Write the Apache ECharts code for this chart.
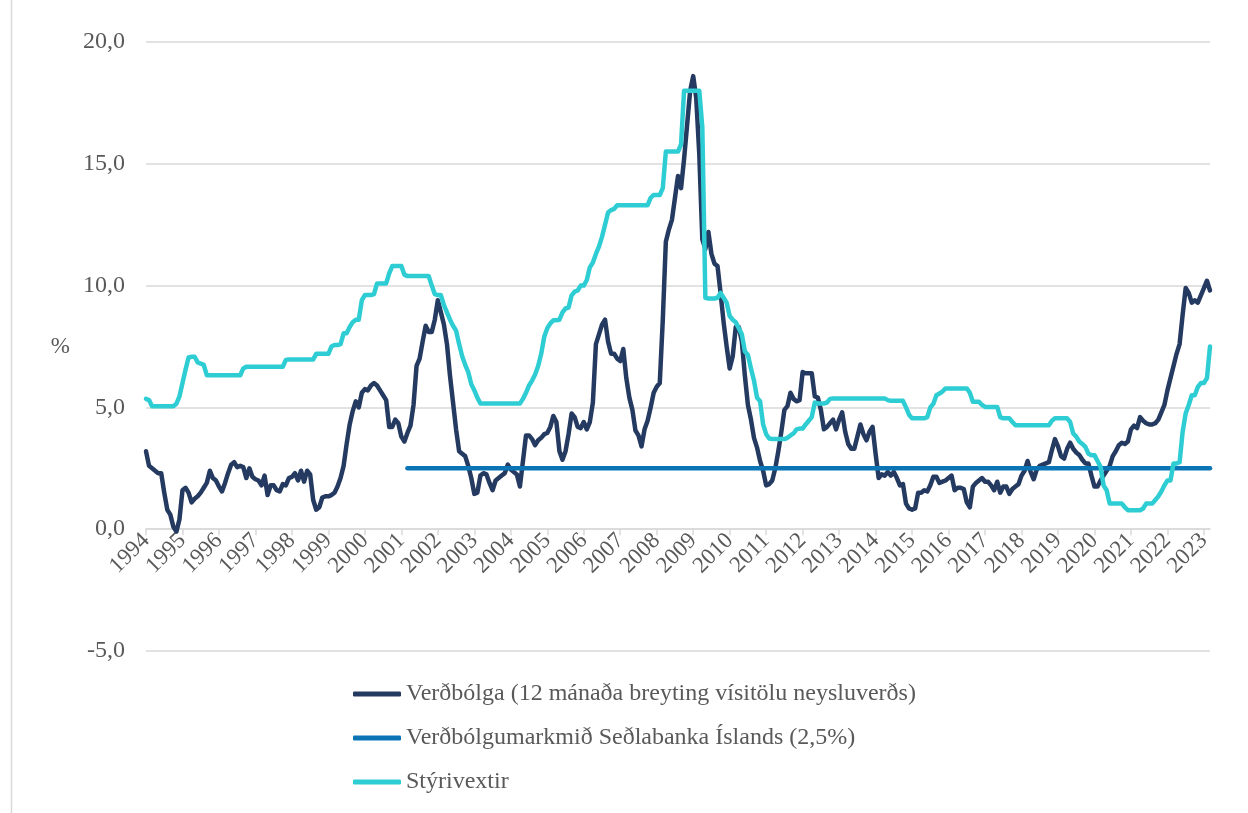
<!DOCTYPE html>
<html>
<head>
<meta charset="utf-8">
<script src="https://cdn.jsdelivr.net/npm/echarts@6/dist/echarts.min.js"></script>
<style>
  html, body { margin: 0; padding: 0; background: #ffffff; }
  #chart { width: 1248px; height: 813px; }
</style>
</head>
<body>
<div id="chart"></div>
<script>
// Monthly observations, January 1994 to March 2023
const startYear = 1994;
const monthCount = 351;

// Verðbólga: 12-month change in the consumer price index (%), one row per year
const inflation = [
  3.2, 2.6, 2.5, 2.4, 2.3, 2.3, 1.5, 0.8, 0.6, 0.1, -0.1, 0.4,          // 1994
  1.6, 1.7, 1.5, 1.1, 1.25, 1.35, 1.5, 1.7, 1.9, 2.4, 2.1, 2.0,         // 1995
  1.75, 1.55, 1.9, 2.3, 2.65, 2.75, 2.55, 2.6, 2.55, 2.1, 2.5, 2.15,    // 1996
  2.05, 2.0, 1.8, 2.2, 1.4, 1.8, 1.8, 1.6, 1.55, 1.85, 1.8, 2.1,        // 1997
  2.15, 2.3, 2.0, 2.4, 1.95, 2.4, 2.25, 1.2, 0.8, 0.9, 1.3, 1.35,       // 1998
  1.35, 1.4, 1.5, 1.75, 2.1, 2.6, 3.5, 4.3, 4.85, 5.25, 5.0, 5.6,       // 1999
  5.75, 5.7, 5.9, 6.0, 5.9, 5.7, 5.5, 5.3, 4.2, 4.2, 4.5, 4.35,         // 2000
  3.8, 3.6, 3.95, 4.25, 5.1, 6.7, 7.0, 7.7, 8.35, 8.1, 8.1, 8.6,        // 2001
  9.4, 8.9, 8.4, 7.6, 6.3, 5.2, 4.1, 3.2, 3.1, 3.0, 2.6, 2.1,          // 2002
  1.45, 1.5, 2.2, 2.3, 2.25, 1.9, 1.6, 2.0, 2.1, 2.2, 2.3, 2.65,        // 2003
  2.45, 2.35, 2.25, 1.75, 2.8, 3.85, 3.85, 3.7, 3.45, 3.65, 3.75, 3.9,  // 2004
  3.95, 4.2, 4.65, 4.4, 3.2, 2.85, 3.2, 3.9, 4.75, 4.6, 4.2, 4.15,      // 2005
  4.4, 4.1, 4.4, 5.2, 7.6, 8.0, 8.4, 8.6, 7.7, 7.2, 7.2, 7.0,           // 2006
  6.9, 7.4, 6.2, 5.4, 4.9, 4.05, 3.85, 3.4, 4.1, 4.45, 5.0, 5.6,        // 2007
  5.85, 6.0, 8.6, 11.8, 12.3, 12.7, 13.6, 14.5, 14.0, 15.2, 16.6, 18.0, // 2008
  18.6, 17.7, 15.4, 11.9, 11.5, 12.2, 11.3, 10.9, 10.8, 9.7, 8.5, 7.5,  // 2009
  6.6, 7.1, 8.3, 8.3, 7.7, 6.3, 5.1, 4.5, 3.75, 3.35, 2.8, 2.4,         // 2010
  1.8, 1.85, 2.0, 2.5, 3.2, 4.0, 4.9, 5.05, 5.6, 5.35, 5.25, 5.3,       // 2011
  6.45, 6.4, 6.4, 6.4, 5.45, 5.4, 4.9, 4.1, 4.2, 4.35, 4.5, 4.1,        // 2012
  4.5, 4.8, 4.0, 3.5, 3.3, 3.3, 3.8, 4.3, 3.9, 3.65, 4.0, 4.2,          // 2013
  3.1, 2.1, 2.25, 2.2, 2.35, 2.2, 2.35, 2.1, 1.8, 1.85, 1.05, 0.85,     // 2014
  0.8, 0.85, 1.5, 1.5, 1.6, 1.55, 1.8, 2.15, 2.15, 1.9, 1.95, 2.0,      // 2015
  2.1, 2.2, 1.6, 1.7, 1.7, 1.65, 1.1, 0.9, 1.75, 1.9, 2.0, 2.1,         // 2016
  1.95, 1.95, 1.8, 1.6, 1.95, 1.5, 1.75, 1.75, 1.45, 1.65, 1.75, 1.85,  // 2017
  2.2, 2.4, 2.8, 2.35, 2.05, 2.45, 2.6, 2.65, 2.7, 2.75, 3.25, 3.7,     // 2018
  3.4, 3.0, 2.9, 3.3, 3.55, 3.3, 3.15, 3.05, 2.85, 2.7, 2.7, 2.2,       // 2019
  1.75, 1.75, 2.0, 2.2, 2.4, 2.6, 3.0, 3.2, 3.45, 3.55, 3.5, 3.6,       // 2020
  4.1, 4.25, 4.15, 4.6, 4.45, 4.35, 4.3, 4.3, 4.35, 4.5, 4.8, 5.1,      // 2021
  5.7, 6.2, 6.7, 7.2, 7.6, 8.8, 9.9, 9.7, 9.3, 9.4, 9.3, 9.6,           // 2022
  9.9, 10.2, 9.8                                                        // 2023
];

// Stýrivextir: policy rate (%), one row per year
const policyRate = [
  5.35, 5.3, 5.05, 5.05, 5.05, 5.05, 5.05, 5.05, 5.05, 5.05, 5.15, 5.45,        // 1994
  6.0, 6.55, 7.05, 7.08, 7.08, 6.85, 6.8, 6.75, 6.32, 6.32, 6.32, 6.32,         // 1995
  6.32, 6.32, 6.32, 6.32, 6.32, 6.32, 6.32, 6.32, 6.6, 6.67, 6.67, 6.67,        // 1996
  6.67, 6.67, 6.67, 6.67, 6.67, 6.67, 6.67, 6.67, 6.67, 6.67, 6.95, 6.97,       // 1997
  6.97, 6.97, 6.97, 6.97, 6.97, 6.97, 6.97, 6.97, 7.2, 7.2, 7.2, 7.2,           // 1998
  7.2, 7.5, 7.56, 7.56, 7.6, 8.04, 8.04, 8.3, 8.5, 8.6, 8.6, 9.4,               // 1999
  9.61, 9.61, 9.61, 9.65, 10.09, 10.09, 10.09, 10.09, 10.5, 10.8, 10.8, 10.8,   // 2000
  10.8, 10.45, 10.39, 10.39, 10.39, 10.39, 10.39, 10.39, 10.39, 10.39, 10.0, 9.65, // 2001
  9.61, 9.61, 9.2, 8.9, 8.6, 8.35, 8.15, 7.6, 7.1, 6.75, 6.45, 5.95,            // 2002
  5.7, 5.4, 5.16, 5.16, 5.16, 5.16, 5.16, 5.16, 5.16, 5.16, 5.16, 5.16,         // 2003
  5.16, 5.16, 5.16, 5.16, 5.35, 5.6, 5.9, 6.1, 6.35, 6.7, 7.2, 7.9,             // 2004
  8.25, 8.45, 8.58, 8.58, 8.6, 8.9, 9.06, 9.1, 9.6, 9.75, 9.8, 10.0,            // 2005
  10.0, 10.23, 10.75, 10.95, 11.3, 11.6, 12.0, 12.5, 13.0, 13.1, 13.15, 13.3,   // 2006
  13.3, 13.3, 13.3, 13.3, 13.3, 13.3, 13.3, 13.3, 13.3, 13.3, 13.6, 13.72,      // 2007
  13.72, 13.72, 14.0, 15.5, 15.5, 15.5, 15.5, 15.5, 15.8, 18.0, 18.0, 18.0,     // 2008
  18.0, 18.0, 18.0, 16.5, 9.5, 9.47, 9.47, 9.47, 9.5, 9.7, 9.5, 9.3,            // 2009
  8.75, 8.6, 8.5, 8.25, 8.0, 7.3, 7.15, 6.6, 6.1, 5.4, 5.25, 4.3,               // 2010
  3.9, 3.72, 3.7, 3.7, 3.7, 3.7, 3.7, 3.75, 3.85, 3.93, 4.1, 4.13,              // 2011
  4.13, 4.3, 4.45, 4.6, 5.2, 5.16, 5.16, 5.16, 5.2, 5.35, 5.37, 5.37,           // 2012
  5.37, 5.37, 5.37, 5.37, 5.37, 5.37, 5.37, 5.37, 5.37, 5.37, 5.37, 5.37,       // 2013
  5.37, 5.37, 5.37, 5.37, 5.3, 5.27, 5.27, 5.27, 5.27, 5.27, 5.0, 4.7,          // 2014
  4.55, 4.55, 4.55, 4.55, 4.55, 4.6, 5.0, 5.15, 5.5, 5.57, 5.65, 5.78,          // 2015
  5.78, 5.78, 5.78, 5.78, 5.78, 5.78, 5.78, 5.6, 5.23, 5.23, 5.23, 5.1,         // 2016
  5.02, 5.02, 5.02, 5.02, 5.02, 4.6, 4.55, 4.55, 4.55, 4.4, 4.27, 4.27,         // 2017
  4.27, 4.27, 4.27, 4.27, 4.27, 4.27, 4.27, 4.27, 4.27, 4.27, 4.45, 4.55,       // 2018
  4.55, 4.55, 4.55, 4.55, 4.4, 3.93, 3.8, 3.6, 3.5, 3.38, 3.1, 3.04,            // 2019
  3.04, 2.8, 2.56, 1.8, 1.6, 1.05, 1.05, 1.05, 1.05, 1.05, 0.9, 0.78,           // 2020
  0.78, 0.78, 0.78, 0.78, 0.85, 1.05, 1.05, 1.05, 1.2, 1.35, 1.55, 1.8,         // 2021
  2.0, 2.0, 2.7, 2.7, 2.75, 4.0, 4.75, 5.1, 5.5, 5.5, 5.84, 6.0,                // 2022
  6.0, 6.2, 7.5                                                                 // 2023
];

// Verðbólgumarkmið: the 2.5% target, in force from March 2001
const targetRate = 2.5;
const targetStartIndex = 86;

const yTicks = { min: -5, max: 20, interval: 5 };

const seriesNames = [
  'Verðbólga (12 mánaða breyting vísitölu neysluverðs)',
  'Verðbólgumarkmið Seðlabanka Íslands (2,5%)',
  'Stýrivextir'
];
const seriesColors = ['#253a60', '#0a74b4', '#2ecdd3'];

// Month categories "YYYY-MM"
const months = [];
for (let i = 0; i < monthCount; i++) {
  const y = startYear + Math.floor(i / 12);
  const m = (i % 12) + 1;
  months.push(y + '-' + (m < 10 ? '0' + m : m));
}
const target = months.map((_, i) => (i >= targetStartIndex ? targetRate : null));

const font = 'Liberation Serif';
const textColor = '#595959';
const gridColor = '#d9d9d9';

// Plot box
const gridBox = { left: 146, right: 38, top: 42, bottom: 162 };
const plotHeight = 813 - gridBox.top - gridBox.bottom;
// Shift that puts the category axis on the zero line
const zeroShift = plotHeight * (0 - yTicks.min) / (yTicks.max - yTicks.min);

const chart = echarts.init(document.getElementById('chart'), null, { renderer: 'canvas' });

const lineSeries = (name, data, color, z) => ({
  name: name,
  type: 'line',
  data: data,
  showSymbol: false,
  symbol: 'none',
  connectNulls: false,
  z: z,
  lineStyle: { color: color, width: 4.5, cap: 'round', join: 'round' },
  itemStyle: { color: color }
});

chart.setOption({
  animation: false,
  backgroundColor: '#ffffff',
  textStyle: { fontFamily: font },
  grid: Object.assign({ containLabel: false }, gridBox),
  xAxis: {
    type: 'category',
    data: months,
    boundaryGap: false,
    position: 'bottom',
    offset: -zeroShift,
    axisLine: { onZero: false, lineStyle: { color: gridColor, width: 1.5 } },
    axisTick: { show: true, interval: 11, length: 6, lineStyle: { color: gridColor, width: 1.5 } },
    axisLabel: {
      interval: 11,
      rotate: 45,
      margin: 8,
      color: textColor,
      fontFamily: font,
      fontSize: 23,
      formatter: (v) => v.slice(0, 4)
    },
    splitLine: { show: false }
  },
  yAxis: {
    type: 'value',
    min: yTicks.min,
    max: yTicks.max,
    interval: yTicks.interval,
    name: '%',
    nameLocation: 'middle',
    nameRotate: 0,
    nameGap: 76,
    nameTextStyle: { color: textColor, fontFamily: font, fontSize: 23, padding: [6, 0, 0, 0] },
    axisLine: { show: false },
    axisTick: { show: false },
    axisLabel: {
      color: textColor,
      fontFamily: font,
      fontSize: 24,
      margin: 21,
      formatter: (v) => v.toFixed(1).replace('.', ',')
    },
    splitLine: { lineStyle: { color: gridColor, width: 1.5 } }
  },
  legend: {
    orient: 'vertical',
    left: 348,
    top: 677,
    itemWidth: 48,
    itemHeight: 5,
    itemGap: 20,
    icon: 'roundRect',
    textStyle: { color: textColor, fontFamily: font, fontSize: 24, padding: [0, 0, 0, 0] },
    data: seriesNames
  },
  graphic: [
    {
      type: 'line',
      shape: { x1: 11.5, y1: 0, x2: 11.5, y2: 813 },
      style: { stroke: gridColor, lineWidth: 1.5 },
      silent: true
    }
  ],
  series: [
    lineSeries(seriesNames[0], inflation, seriesColors[0], 2),
    lineSeries(seriesNames[1], target, seriesColors[1], 3),
    lineSeries(seriesNames[2], policyRate, seriesColors[2], 4)
  ]
});
</script>
</body>
</html>
